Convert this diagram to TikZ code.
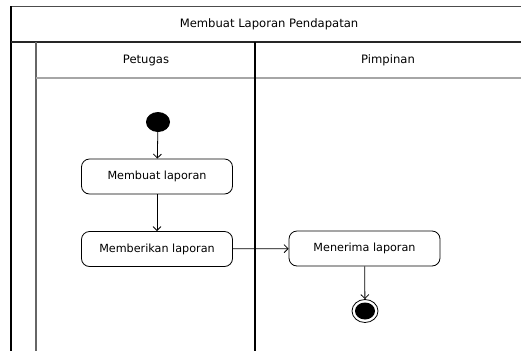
\documentclass[tikz,border=0pt]{standalone}
\usepackage{fontspec}
\setmainfont{DejaVu Sans}
\usetikzlibrary{arrows.meta,positioning,shapes.geometric}
\begin{document}
\begin{tikzpicture}[x=1pt,y=-1pt,
    lane/.style={line width=1.2pt},
    judulfont/.style={font=\fontsize{11.6}{13}\selectfont},
    action/.style={draw, rounded corners=8pt, line width=0.8pt,
        minimum width=151pt, minimum height=35pt, inner sep=0pt,
        font=\fontsize{11.2}{13}\selectfont},
    flow/.style={line width=0.8pt, -{Straight Barb[length=4pt,width=8pt]}}
]
    \useasboundingbox (0,0) rectangle (521,351);
    % frame and lanes
    \draw[lane, black!70] (11,6.5) -- (521,6.5);
    \draw[lane] (11,6) -- (11,351);
    \draw[lane, black!85] (11,42) -- (521,42);
    \draw[lane, black!60] (36,42) -- (36,351);
    \draw[lane, black!35] (36,78) -- (521,78);
    \draw[line width=1.8pt] (255,42) -- (255,351);
    \node[judulfont] (judul) at (269,24) {Membuat Laporan Pendapatan};
    \node[judulfont] (petugas) at (146,60) {Petugas};
    \node[judulfont] (pimpinan) at (388,60) {Pimpinan};
    % activities
    \node[fill=black, ellipse, minimum width=24pt, minimum height=20pt, inner sep=0pt] (mulai) at (158,122) {};
    \node[action] (buat) at (157,176.5) {Membuat laporan};
    \node[action] (beri) at (157,249) {Memberikan laporan};
    \node[action] (terima) at (364.5,248.5) {Menerima laporan};
    \node[draw, line width=0.8pt, ellipse, minimum width=26pt, minimum height=23pt, inner sep=0pt] (selesai) at (365,311) {};
    \fill (selesai) ellipse (10pt and 8.5pt);
    \draw[flow] (mulai) -- (buat);
    \draw[flow] (buat) -- (beri);
    \draw[flow] (beri) -- (terima);
    \draw[flow] (terima) -- (selesai);
\end{tikzpicture}
\end{document}
